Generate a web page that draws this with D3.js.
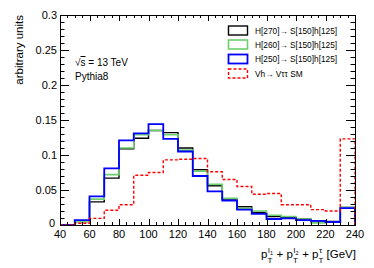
<!DOCTYPE html>
<html>
<head>
<meta charset="utf-8">
<script src="https://cdn.jsdelivr.net/npm/d3@7"></script>
<style>
  body { margin: 0; background: #fff; }
  svg { display: block; }
  text { font-family: "Liberation Sans", Arial, Helvetica, sans-serif; fill: #000; white-space: pre; }
</style>
</head>
<body>
<svg id="main-svg" width="374" height="268"></svg>
<script>
// bin lower edges (GeV), 10 GeV wide
let binLow = [40, 50, 60, 70, 80, 90, 100, 110, 120, 130, 140, 150, 160, 170, 180, 190, 200, 210, 220, 230];
let binWidth = 10;

let h270 = [0, 0.005, 0.033, 0.067, 0.109, 0.124, 0.135, 0.132, 0.110, 0.079, 0.056, 0.037, 0.026, 0.018, 0.012, 0.0105, 0.0085, 0.006, 0.005, 0.025];
let h260 = [0, 0.005, 0.037, 0.072, 0.110, 0.129, 0.135, 0.129, 0.107, 0.077, 0.058, 0.038, 0.024, 0.020, 0.014, 0.012, 0.0085, 0.003, 0.0045, 0.025];
let h250 = [0, 0.007, 0.041, 0.081, 0.121, 0.131, 0.144, 0.123, 0.105, 0.070, 0.048, 0.035, 0.022, 0.016, 0.0086, 0.0095, 0.007, 0.006, 0.0043, 0.024];
let vhSM = [0, 0.0024, 0.0095, 0.021, 0.029, 0.071, 0.075, 0.093, 0.094, 0.095, 0.076, 0.065, 0.055, 0.044, 0.045, 0.029, 0.029, 0.022, 0.020, 0.123];

let xTicks = [40, 60, 80, 100, 120, 140, 160, 180, 200, 220, 240];
let yTicks = [0, 0.05, 0.1, 0.15, 0.2, 0.25, 0.3];
let yTickLabels = ["0", "0.05", "0.1", "0.15", "0.2", "0.25", "0.3"];

let legendLabels = ["H[270]\u2192 S[150]h[125]", "H[260]\u2192 S[150]h[125]", "H[250]\u2192 S[150]h[125]", "Vh\u2192 V\u03c4\u03c4 SM"];

let series = [
    { name: legendLabels[0], values: h270, color: "#000000", width: 1.4, dash: null },
    { name: legendLabels[1], values: h260, color: "#6fcf6f", width: 1.6, dash: null },
    { name: legendLabels[2], values: h250, color: "#0000ff", width: 1.8, dash: null },
    { name: legendLabels[3], values: vhSM, color: "#ff0000", width: 1.4, dash: "3,2" }
];

let svg = d3.select("#main-svg");
let padLeft = 60, padRight = 355, padTop = 15, padBottom = 225;

let x = d3.scaleLinear().domain([40, 240]).range([padLeft, padRight]);
let y = d3.scaleLinear().domain([0, 0.3]).range([padBottom, padTop]);

let HistLayer = svg.append("g");
let AxisLayer = svg.append("g");
let UILayer = svg.append("g");

// histogram outlines
function stepPath(values) {
    let p = d3.path();
    p.moveTo(x(binLow[0]), y(0));
    values.forEach(function (v, i) {
        p.lineTo(x(binLow[i]), y(v));
        p.lineTo(x(binLow[i] + binWidth), y(v));
    });
    p.lineTo(x(binLow[binLow.length - 1] + binWidth), y(0));
    return p.toString();
}

series.forEach(function (s) {
    HistLayer.append("path")
        .attr("d", stepPath(s.values))
        .attr("fill", "none")
        .attr("stroke", s.color)
        .attr("stroke-width", s.width)
        .attr("stroke-dasharray", s.dash);
});

// frame
AxisLayer.append("rect")
    .attr("x", padLeft + 0.5).attr("y", padTop + 0.5)
    .attr("width", padRight - padLeft).attr("height", padBottom - padTop)
    .attr("fill", "none").attr("stroke", "#000").attr("stroke-width", 1);

// ticks, ROOT style on all four sides
let xMinor = d3.range(40, 240.1, 5);
let yMinor = d3.range(0, 0.3001, 0.01);

function tickLine(x1, y1, x2, y2) {
    AxisLayer.append("line")
        .attr("x1", x1).attr("y1", y1).attr("x2", x2).attr("y2", y2)
        .attr("stroke", "#000").attr("stroke-width", 1);
}

xMinor.forEach(function (v) {
    let major = xTicks.indexOf(Math.round(v)) >= 0;
    let len = major ? 6 : 3;
    let px = Math.round(x(v)) + 0.5;
    tickLine(px, padBottom, px, padBottom - len);
    tickLine(px, padTop, px, padTop + len);
});

yMinor.forEach(function (v) {
    let major = Math.abs(Math.round(v * 100) % 5) === 0;
    let len = major ? 9 : 4.5;
    let py = Math.round(y(v)) + 0.5;
    tickLine(padLeft, py, padLeft + len, py);
    tickLine(padRight, py, padRight - len, py);
});

// tick labels
AxisLayer.selectAll(".xlab").data(xTicks).enter().append("text")
    .attr("class", "xlab")
    .attr("x", function (d) { return x(d); })
    .attr("y", 238)
    .attr("text-anchor", "middle")
    .style("font-size", "11px")
    .text(function (d) { return d; });

AxisLayer.selectAll(".ylab").data(yTicks).enter().append("text")
    .attr("class", "ylab")
    .attr("x", function (d) { return d === 0 ? 55 : 57; })
    .attr("y", function (d) { return y(d) + (d === 0 ? 2 : 4); })
    .attr("text-anchor", "end")
    .style("font-size", "11px")
    .text(function (d, i) { return yTickLabels[i]; });

// y title
AxisLayer.append("text")
    .attr("transform", "translate(23," + padTop + ") rotate(-90)")
    .attr("text-anchor", "end")
    .style("font-size", "11.5px")
    .text("arbitrary units");

// x title: p_T^{l1} + p_T^{l2} + p_T^{tau} [GeV]
let xTitle = AxisLayer.append("g");
let cx = 0;
let base = 258;
function piece(str, dx, dy, size) {
    let t = xTitle.append("text")
        .attr("x", cx + dx).attr("y", base + dy)
        .style("font-size", size + "px")
        .text(str);
    return t.node().getComputedTextLength();
}
function pTerm(sup, supSub) {
    let w = piece("p", 0, 0, 11.5);
    cx += w;
    let wSup = piece(sup, 0.6, -5.5, 8);
    let wSub = supSub ? piece(supSub, wSup + 0.9, -3.5, 5.5) : 0;
    let wT = piece("T", 0, 4.5, 8);
    cx += Math.max(wSup + wSub + 1.2, wT);
}
pTerm("l", "1");
cx += piece(" + ", 0, 0, 11.5);
pTerm("l", "2");
cx += piece(" + ", 0, 0, 11.5);
pTerm("\u03c4", null);
cx += piece(" [GeV]", 0, 0, 11.5);
xTitle.attr("transform", "translate(" + (356 - cx) + ",0)");

// annotations
let sqrtText = UILayer.append("text").attr("x", 75).attr("y", 66)
    .style("font-size", "10px");
sqrtText.append("tspan").text("\u221a");
sqrtText.append("tspan").style("text-decoration", "overline").text("s");
sqrtText.append("tspan").text(" = 13 TeV");
UILayer.append("text").attr("x", 75).attr("y", 80)
    .style("font-size", "10px").text("Pythia8");

// legend
let legendY = [30.5, 44.5, 59, 73.5];
series.forEach(function (s, i) {
    UILayer.append("rect")
        .attr("x", 228.5).attr("y", legendY[i] - 4.5)
        .attr("width", 19).attr("height", 9)
        .attr("fill", "none")
        .attr("stroke", s.color)
        .attr("stroke-width", s.width)
        .attr("stroke-dasharray", s.dash);
    UILayer.append("text")
        .attr("x", 255).attr("y", legendY[i] + 3)
        .style("font-size", "8.3px")
        .text(s.name);
});
</script>
</body>
</html>
